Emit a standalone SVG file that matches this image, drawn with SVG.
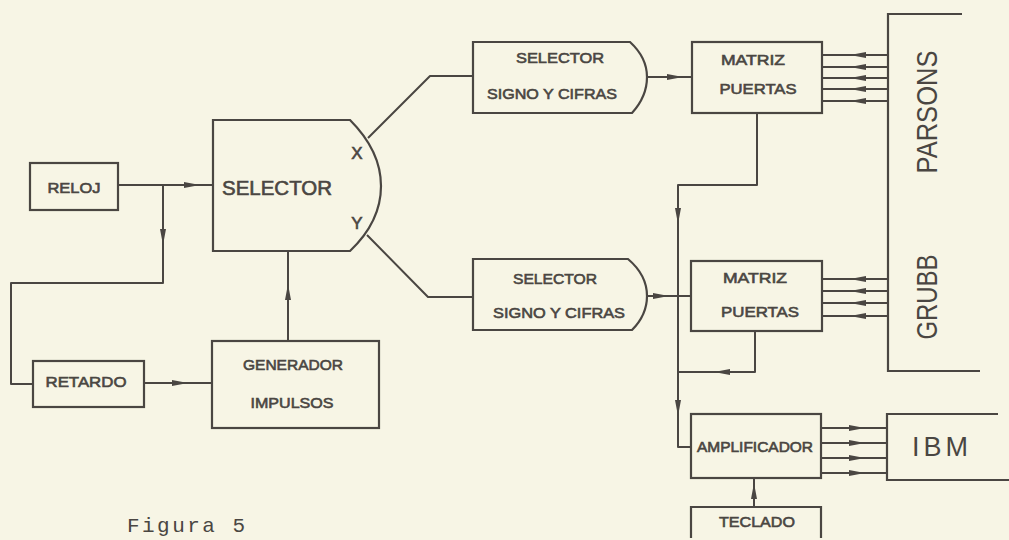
<svg xmlns="http://www.w3.org/2000/svg" width="1009" height="540" viewBox="0 0 1009 540">
<style>
.s{fill:none;stroke:#4a4642;stroke-width:2;stroke-linejoin:round}
.b{fill:none;stroke:#4a4642;stroke-width:2.2}
.t{font-family:"Liberation Sans",Arial,sans-serif;fill:#4a4642;stroke:#4a4642;stroke-width:0.6;text-anchor:middle}
.n{font-family:"Liberation Sans",Arial,sans-serif;fill:#4a4642;text-anchor:middle}
.a{fill:#4a4642}
</style>
<defs>
<path id="ah" d="M-8,-3 L8,0 L-8,3 Z"/>
</defs>
<rect width="1009" height="540" fill="#f7f5e5"/>

<g id="reloj">
<rect class="b" x="30" y="163" width="88" height="47"/>
<text class="t" x="74" y="193" font-size="15" textLength="53" lengthAdjust="spacingAndGlyphs">RELOJ</text>
</g>
<g id="selector">
<path class="b" d="M213,120 H350 C370,140 381,163 381,186 C381,210 370,232 350,251 H213 Z"/>
<text class="t" x="277" y="195" font-size="20" stroke-width="0.4" textLength="110" lengthAdjust="spacingAndGlyphs">SELECTOR</text>
<text class="t" x="357" y="159" font-size="17" stroke-width="0.3">X</text>
<text class="t" x="357" y="229" font-size="17" stroke-width="0.3">Y</text>
</g>
<g id="retardo">
<rect class="b" x="33" y="361" width="111" height="46"/>
<text class="t" x="86" y="387" font-size="15" textLength="81" lengthAdjust="spacingAndGlyphs">RETARDO</text>
</g>
<g id="generador">
<rect class="b" x="212" y="341" width="167" height="87"/>
<text class="t" x="293" y="370" font-size="15" textLength="100" lengthAdjust="spacingAndGlyphs">GENERADOR</text>
<text class="t" x="292" y="408" font-size="15" textLength="83" lengthAdjust="spacingAndGlyphs">IMPULSOS</text>
</g>
<g id="selector-signo-1">
<path class="b" d="M473,42 H630 C642,53 647,64 647,77 C647,90 642,102 632,113 H473 Z"/>
<text class="t" x="560" y="63" font-size="15" textLength="88" lengthAdjust="spacingAndGlyphs">SELECTOR</text>
<text class="t" x="552" y="99" font-size="15" textLength="130" lengthAdjust="spacingAndGlyphs">SIGNO Y CIFRAS</text>
</g>
<g id="selector-signo-2">
<path class="b" d="M473,259 H628 C641,270 647,283 647,296 C647,309 641,321 632,330 H473 Z"/>
<text class="t" x="555" y="284" font-size="15" textLength="84" lengthAdjust="spacingAndGlyphs">SELECTOR</text>
<text class="t" x="559" y="318" font-size="15" textLength="132" lengthAdjust="spacingAndGlyphs">SIGNO  Y CIFRAS</text>
</g>
<g id="matriz-1">
<rect class="b" x="692" y="42" width="130" height="71"/>
<text class="t" x="753" y="65" font-size="15" textLength="64" lengthAdjust="spacingAndGlyphs">MATRIZ</text>
<text class="t" x="758" y="94" font-size="15" textLength="77" lengthAdjust="spacingAndGlyphs">PUERTAS</text>
</g>
<g id="matriz-2">
<rect class="b" x="691" y="261" width="131" height="70"/>
<text class="t" x="755" y="283" font-size="15" textLength="64" lengthAdjust="spacingAndGlyphs">MATRIZ</text>
<text class="t" x="760" y="317" font-size="15" textLength="78" lengthAdjust="spacingAndGlyphs">PUERTAS</text>
</g>
<g id="parsons-grubb">
<path class="b" d="M962,14 H888 V371 H980"/>
<text class="n" font-size="30" transform="translate(937,112) rotate(-90)" textLength="123" lengthAdjust="spacingAndGlyphs">PARSONS</text>
<text class="n" font-size="30" transform="translate(937,297) rotate(-90)" textLength="85" lengthAdjust="spacingAndGlyphs">GRUBB</text>
</g>
<g id="amplificador">
<rect class="b" x="691" y="414" width="130" height="64"/>
<text class="t" x="755" y="452" font-size="14" textLength="116" lengthAdjust="spacingAndGlyphs">AMPLIFICADOR</text>
</g>
<g id="teclado">
<path class="b" d="M691,538 V507 H821 V538"/>
<text class="t" x="757" y="527" font-size="15" textLength="76" lengthAdjust="spacingAndGlyphs">TECLADO</text>
</g>
<g id="ibm">
<path class="b" d="M998,414 H887 V480 H1009"/>
<text class="n" x="940" y="456" font-size="27" textLength="56" lengthAdjust="spacing">IBM</text>
</g>
<text x="127" y="532" font-family="Liberation Mono,Courier New,monospace" font-size="21" fill="#4a4642" textLength="118" lengthAdjust="spacing">Figura 5</text>

<g id="connectors">
<path class="s" d="M118,185 H213"/>
<path class="s" d="M163,185 V283 H11 V384 H33"/>
<path class="s" d="M144,383 H212"/>
<path class="s" d="M288,341 V251"/>
<path class="s" d="M368,138 L430,76 H473"/>
<path class="s" d="M367,235 L428,297 H473"/>
<path class="s" d="M647,77 H692"/>
<path class="s" d="M647,296 H691"/>
<path class="s" d="M757,113 V185 H678 V447 H691"/>
<path class="s" d="M755,331 V372 H678"/>
<path class="s" d="M754,507 V478"/>
<path class="s" d="M822,55 H888 M822,67 H888 M822,78 H888 M822,89 H888 M822,101 H888"/>
<path class="s" d="M822,279 H888 M822,291 H888 M822,303 H888 M822,316 H888"/>
<path class="s" d="M821,428 H887 M821,443 H887 M821,458 H887 M821,473 H887"/>
<g class="a">
<use href="#ah" transform="translate(192,185)"/>
<use href="#ah" transform="translate(163,237) rotate(90)"/>
<use href="#ah" transform="translate(180,383)"/>
<use href="#ah" transform="translate(288,292) rotate(-90)"/>
<use href="#ah" transform="translate(675,77)"/>
<use href="#ah" transform="translate(661,296)"/>
<use href="#ah" transform="translate(678,216) rotate(90)"/>
<use href="#ah" transform="translate(722,372) rotate(180)"/>
<use href="#ah" transform="translate(678,408) rotate(90)"/>
<use href="#ah" transform="translate(754,491) rotate(-90)"/>
<use href="#ah" transform="translate(858,55) rotate(180)"/>
<use href="#ah" transform="translate(858,67) rotate(180)"/>
<use href="#ah" transform="translate(858,78) rotate(180)"/>
<use href="#ah" transform="translate(858,89) rotate(180)"/>
<use href="#ah" transform="translate(858,101) rotate(180)"/>
<use href="#ah" transform="translate(858,279) rotate(180)"/>
<use href="#ah" transform="translate(858,291) rotate(180)"/>
<use href="#ah" transform="translate(858,303) rotate(180)"/>
<use href="#ah" transform="translate(858,316) rotate(180)"/>
<use href="#ah" transform="translate(857,428)"/>
<use href="#ah" transform="translate(857,443)"/>
<use href="#ah" transform="translate(857,458)"/>
<use href="#ah" transform="translate(857,473)"/>
</g>
</g>
</svg>
